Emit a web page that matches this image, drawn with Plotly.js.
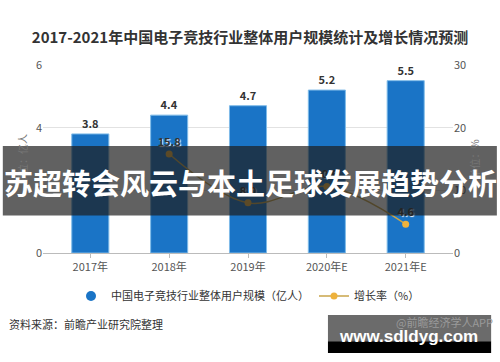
<!DOCTYPE html>
<html>
<head>
<meta charset="utf-8">
<script src="https://cdn.plot.ly/plotly-3.0.1.min.js"></script>
<style>html,body{margin:0;padding:0;background:#fff;}#chart{width:500px;height:362px;}</style>
</head>
<body>
<div id="chart"></div>
<script>
const categories = ["2017年", "2018年", "2019年", "2020年E", "2021年E"];
const userScale = [3.8, 4.4, 4.7, 5.2, 5.5];
const growthYears = ["2018年", "2019年", "2020年E", "2021年E"];
const growthRate = [15.8, 8.0, 10.6, 4.6];
const seriesNames = ["中国电子竞技行业整体用户规模（亿人）", "增长率（%）"];
const chartTitle = "2017-2021年中国电子竞技行业整体用户规模统计及增长情况预测";
const overlayTitle = "苏超转会风云与本土足球发展趋势分析";
const sourceText = "资料来源：前瞻产业研究院整理";

const FONT = '"Noto Sans CJK SC", "Noto Sans", sans-serif';
const BLUE = '#1a74c6';
const GOLD = '#eeb23c';

const traces = [
  {
    type: 'bar', x: categories, y: userScale, name: seriesNames[0], showlegend: false,
    marker: {color: BLUE, line: {color: '#7fbbe8', width: 1}}, width: 0.47,
    text: userScale.map(v => v.toFixed(1)), textposition: 'outside', cliponaxis: false,
    textfont: {family: FONT, size: 11, color: '#333', weight: 'bold'}
  },
  {
    type: 'scatter', mode: 'markers', x: [null], y: [null], name: seriesNames[0],
    marker: {color: BLUE, size: 10, symbol: 'circle'}, hoverinfo: 'skip'
  },
  {
    type: 'scatter', mode: 'lines+markers+text', x: growthYears, y: growthRate, yaxis: 'y2',
    name: seriesNames[1], line: {color: '#c9a54a', width: 1.5, shape: 'spline'},
    marker: {color: GOLD, size: 7, symbol: 'circle'},
    text: growthRate.map(v => v.toFixed(1)), textposition: 'top center', cliponaxis: false,
    textfont: {family: FONT, size: 11, color: '#333', weight: 'bold', shadow: '1px 1px 1px #fff'}
  }
];

const layout = {
  width: 500, height: 362,
  margin: {l: 43, r: 47, t: 65, b: 109},
  paper_bgcolor: '#fff', plot_bgcolor: '#fff',
  font: {family: FONT, color: '#555', size: 11},
  title: {text: chartTitle, font: {family: FONT, size: 15, color: '#333', weight: 'bold'},
          x: 0.5, xanchor: 'center', y: 0.895, yanchor: 'middle'},
  bargap: 0.5,
  xaxis: {type: 'category', range: [-0.6, 4.6], showgrid: false, showline: true,
          linecolor: '#bbb', linewidth: 1, ticks: 'outside', ticklen: 4, tickcolor: '#bbb',
          tickfont: {size: 11, color: '#555'}, fixedrange: true},
  yaxis: {range: [0, 6], dtick: 2, showgrid: true, gridcolor: '#e2e2e2', zeroline: false,
          tickfont: {size: 11, color: '#555'},
          title: {text: '单位：亿人', font: {size: 10, color: '#777'}, standoff: 6}},
  yaxis2: {range: [0, 30], dtick: 10, overlaying: 'y', side: 'right', showgrid: false,
           zeroline: false, tickfont: {size: 11, color: '#555'},
           title: {text: '单位：%', font: {size: 10, color: '#777'}, standoff: 6}},
  legend: {orientation: 'h', x: 0.5, xanchor: 'center', y: -0.229, yanchor: 'middle',
           font: {size: 11, color: '#333'}, itemwidth: 30, traceorder: 'normal'},
  shapes: [
    {type: 'rect', xref: 'paper', yref: 'paper', x0: -0.098, x1: 1.107, y0: 0.199, y1: 0.569,
     fillcolor: 'rgba(30,30,30,0.7)', line: {width: 0}, layer: 'above'},
    {type: 'rect', xref: 'paper', yref: 'paper', x0: 0.695, x1: 1.093, y0: -0.47, y1: -0.330,
     fillcolor: '#6b6b6b', line: {width: 0}, layer: 'above'},
    {type: 'rect', xref: 'paper', yref: 'paper', x0: 0.695, x1: 1.093, y0: -0.532, y1: -0.47,
     fillcolor: '#000', line: {width: 0}, layer: 'above'}
  ],
  annotations: [
    {text: overlayTitle, xref: 'paper', yref: 'paper', x: 0.505, y: 0.38, xanchor: 'center', yanchor: 'middle',
     showarrow: false, font: {family: FONT, size: 29, color: '#fff', weight: 'bold'}},
    {text: sourceText, xref: 'paper', yref: 'paper', x: -0.088, y: -0.378, xanchor: 'left', yanchor: 'middle',
     showarrow: false, font: {family: FONT, size: 11, color: '#333'}},
    {text: '@前瞻经济学人APP', xref: 'paper', yref: 'paper', x: 0.855, y: -0.365, xanchor: 'left', yanchor: 'middle',
     showarrow: false, font: {family: FONT, size: 11, color: '#9a9a9a'}},
    {text: 'www.sdldyg.com', xref: 'paper', yref: 'paper', x: 0.718, y: -0.445, xanchor: 'left', yanchor: 'middle',
     showarrow: false, font: {family: '"Liberation Sans", Arial, sans-serif', size: 17, color: '#fff', weight: 'bold'}}
  ]
};

Plotly.newPlot('chart', traces, layout, {displayModeBar: false, staticPlot: true});
</script>
</body>
</html>
